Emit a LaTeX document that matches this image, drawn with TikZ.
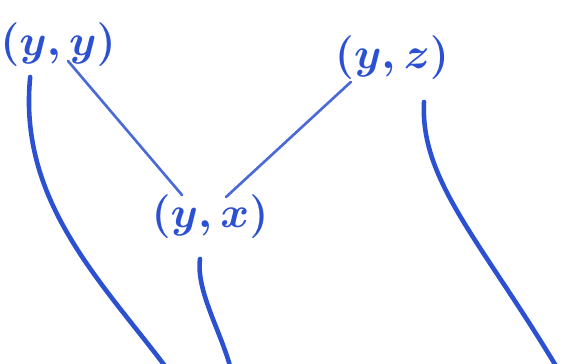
\documentclass[tikz,border=0pt]{standalone}
\usepackage{amsmath}
\usetikzlibrary{calc,positioning}
\definecolor{ink}{HTML}{2B50D2}
\tikzset{
  pair/.style={text=ink, font=\Huge\boldmath, inner sep=1pt},
  strand/.style={draw=ink, line width=2.6pt, line cap=round},
  link/.style={draw=ink!85, line width=1.5pt, line cap=round}
}

\begin{document}
\begin{tikzpicture}[x=0.02cm, y=-0.02cm]
\useasboundingbox (0,0) rectangle (570,364);

% labels
\node[pair] (yy) at (58,45) {$(y,y)$};
\node[pair] (yz) at (392,58) {$(y,z)$};
\node[pair] (yx) at (210,217) {$(y,x)$};

% free ends at the bottom
\coordinate (lb) at (165,366);
\coordinate (mb) at (230,366);
\coordinate (rb) at (556,366);

% crossings
\draw[link] ($(yy.south)+(10,-8)$) -- ($(yx.north)+(-28,2)$);
\draw[link] ($(yz.south west)+(18,0)$) -- ($(yx.north)+(16,4)$);

% strands
\draw[strand] ($(yy.south west)+(32,8)$) .. controls (18,200) and (100,280) .. (lb);
\draw[strand] ($(yx.south)+(-10,18)$) .. controls (196,290) and (220,330) .. (mb);
\draw[strand] ($(yz.south)+(32,20)$) .. controls (420,180) and (480,240) .. (rb);

\end{tikzpicture}
\end{document}
